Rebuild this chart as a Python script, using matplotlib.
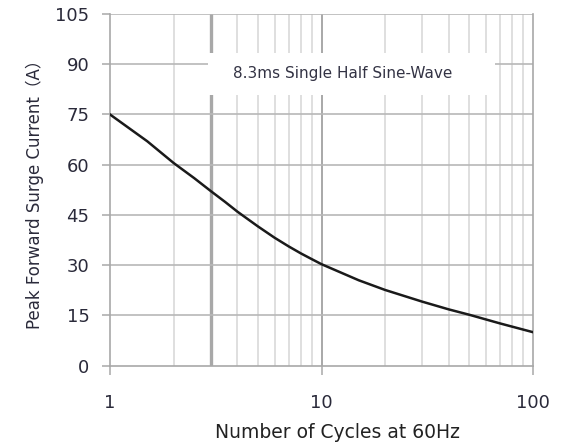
import matplotlib
matplotlib.use("Agg")
import matplotlib.pyplot as plt
from matplotlib.patches import Rectangle
from matplotlib.ticker import FixedLocator, NullFormatter

# Surge current curve
cycles = [1, 1.5, 2, 2.5, 3, 3.5, 4, 5, 6, 7, 8, 9, 10, 15, 20, 30, 40, 50, 70, 100]
surge_amps = [75, 67.0, 60.5, 56.0, 52.1, 48.9, 46.0, 41.6, 38.2, 35.6, 33.5, 31.8,
              30.3, 25.5, 22.6, 19.1, 16.8, 15.2, 12.6, 10]

y_ticks = [0, 15, 30, 45, 60, 75, 90, 105]
x_ticks = [1, 10, 100]
x_tick_labels = ["1", "10", "100"]
minor_x = [2, 3, 4, 5, 6, 7, 8, 9, 20, 30, 40, 50, 60, 70, 80, 90]

plt.rcParams['font.family'] = ['DejaVu Sans', 'Noto Sans CJK SC']

fig = plt.figure(figsize=(5.63, 4.44), dpi=100)
ax = fig.add_axes([0.1954, 0.1764, 0.7513, 0.7921])

ax.set_xscale('log')
ax.set_xlim(1, 100)
ax.set_ylim(0, 105)

# grid lines
for v in minor_x:
    lw, col = (2.4, '#a8a8a8') if v == 3 else (1.1, '#d6d6d6')
    ax.axvline(v, color=col, lw=lw, zorder=1)
ax.axvline(10, color='#a8a8a8', lw=1.4, zorder=1)
for v in y_ticks[1:]:
    ax.axhline(v, color='#b8b8b8', lw=1.2, zorder=1)

# white label box covering the grid
ax.add_patch(Rectangle((0.232, 0.770), 0.678, 0.119, transform=ax.transAxes,
                       facecolor='white', edgecolor='none', zorder=2))
ax.text(0.551, 0.830, '8.3ms Single Half Sine-Wave', transform=ax.transAxes,
        ha='center', va='center', fontsize=11, color='#333344', zorder=4)

ax.plot(cycles, surge_amps, color='#1a1a1a', lw=1.8, zorder=3)

ax.xaxis.set_major_locator(FixedLocator(x_ticks))
ax.xaxis.set_minor_locator(FixedLocator([]))
ax.xaxis.set_minor_formatter(NullFormatter())
ax.set_xticks(x_ticks)
ax.set_xticklabels(x_tick_labels)
ax.set_yticks(y_ticks)

ax.tick_params(axis='x', length=6.5, width=1.1, color='#a8a8a8', pad=14,
               labelsize=13, labelcolor='#2a2a3a')
ax.tick_params(axis='y', length=5.8, width=1.1, color='#a8a8a8', pad=9,
               labelsize=13, labelcolor='#2a2a3a')

for s in ['left', 'bottom', 'right']:
    ax.spines[s].set_color('#a8a8a8')
    ax.spines[s].set_linewidth(1.2)
ax.spines['top'].set_visible(False)

ax.set_xlabel('Number of Cycles at 60Hz', fontsize=13.5, color='#222222')
ax.xaxis.set_label_coords(0.537, -0.163)
ax.set_ylabel('Peak Forward Surge Current（A）', fontsize=12, color='#2a2a3a', labelpad=8)

fig.savefig('out.png', dpi=100)
